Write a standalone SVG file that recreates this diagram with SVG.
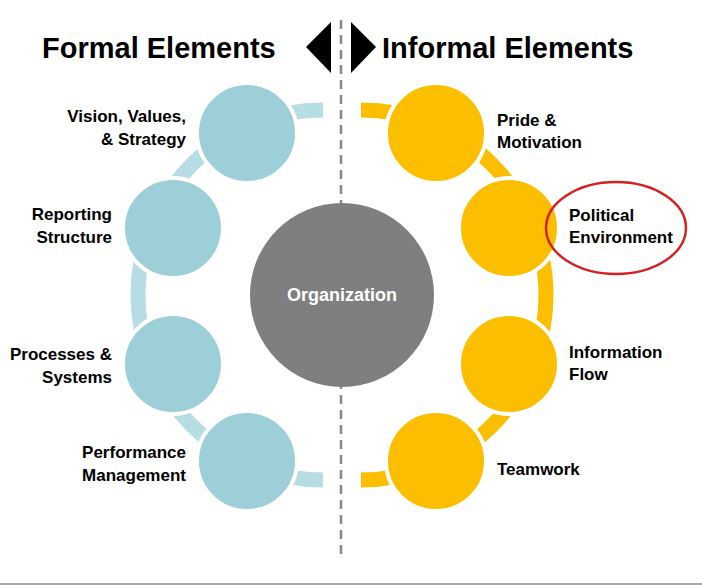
<svg xmlns="http://www.w3.org/2000/svg" width="702" height="586" viewBox="0 0 702 586">
<style>
text{font-family:"Liberation Sans",Arial,sans-serif;font-weight:bold;fill:#000}
.lbl{font-size:17px}
.hd{font-size:29px}
.t{fill:#9dcfd8;stroke:#fff;stroke-width:4}
.o{fill:#fcbf00;stroke:#fff;stroke-width:4}
</style>
<rect width="702" height="586" fill="#fff"/>
<line x1="0" y1="584" x2="702" y2="584" stroke="#aaa" stroke-width="2"/>
<line x1="341" y1="20" x2="341" y2="558" stroke="#888" stroke-width="2.5" stroke-dasharray="9,6"/>
<text class="hd" x="42" y="58">Formal Elements</text>
<text class="hd" x="382" y="58">Informal Elements</text>
<polygon points="306,47 331,22 331,73" fill="#000"/>
<polygon points="376,47 351,22 351,73" fill="#000"/>
<g id="connectors" fill="none" stroke-width="15">
<path d="M323,110 A185,185 0 0 0 323,480" stroke="#b6dde3"/>
<path d="M361,110 A185,185 0 0 1 361,480" stroke="#fcbf00"/>
</g>
<g id="organization"><circle cx="342" cy="295" r="92" fill="#7f7f7f"/><text x="342" y="301" text-anchor="middle" style="font-size:18px;fill:#fff">Organization</text></g>
<g id="vision"><circle class="t" cx="247" cy="133" r="50"/><text class="lbl" text-anchor="end"><tspan x="186" y="122">Vision, Values,</tspan><tspan x="186" y="145">&amp; Strategy</tspan></text></g>
<g id="reporting"><circle class="t" cx="173" cy="228" r="50"/><text class="lbl" text-anchor="end"><tspan x="112" y="220">Reporting</tspan><tspan x="112" y="243">Structure</tspan></text></g>
<g id="processes"><circle class="t" cx="173" cy="364" r="50"/><text class="lbl" text-anchor="end"><tspan x="112" y="360">Processes &amp;</tspan><tspan x="112" y="383">Systems</tspan></text></g>
<g id="performance"><circle class="t" cx="247" cy="461" r="50"/><text class="lbl" text-anchor="end"><tspan x="186" y="458">Performance</tspan><tspan x="186" y="481">Management</tspan></text></g>
<g id="pride"><circle class="o" cx="436" cy="133" r="50"/><text class="lbl"><tspan x="497" y="126">Pride &amp;</tspan><tspan x="497" y="148">Motivation</tspan></text></g>
<g id="political"><circle class="o" cx="509" cy="228" r="50"/><text class="lbl"><tspan x="569" y="221">Political</tspan><tspan x="569" y="243">Environment</tspan></text><ellipse cx="616" cy="228" rx="70" ry="46" fill="none" stroke="#d42020" stroke-width="2.5"/></g>
<g id="information"><circle class="o" cx="509" cy="364" r="50"/><text class="lbl"><tspan x="569" y="358">Information</tspan><tspan x="569" y="380">Flow</tspan></text></g>
<g id="teamwork"><circle class="o" cx="436" cy="461" r="50"/><text class="lbl" x="497" y="475">Teamwork</text></g>
</svg>
